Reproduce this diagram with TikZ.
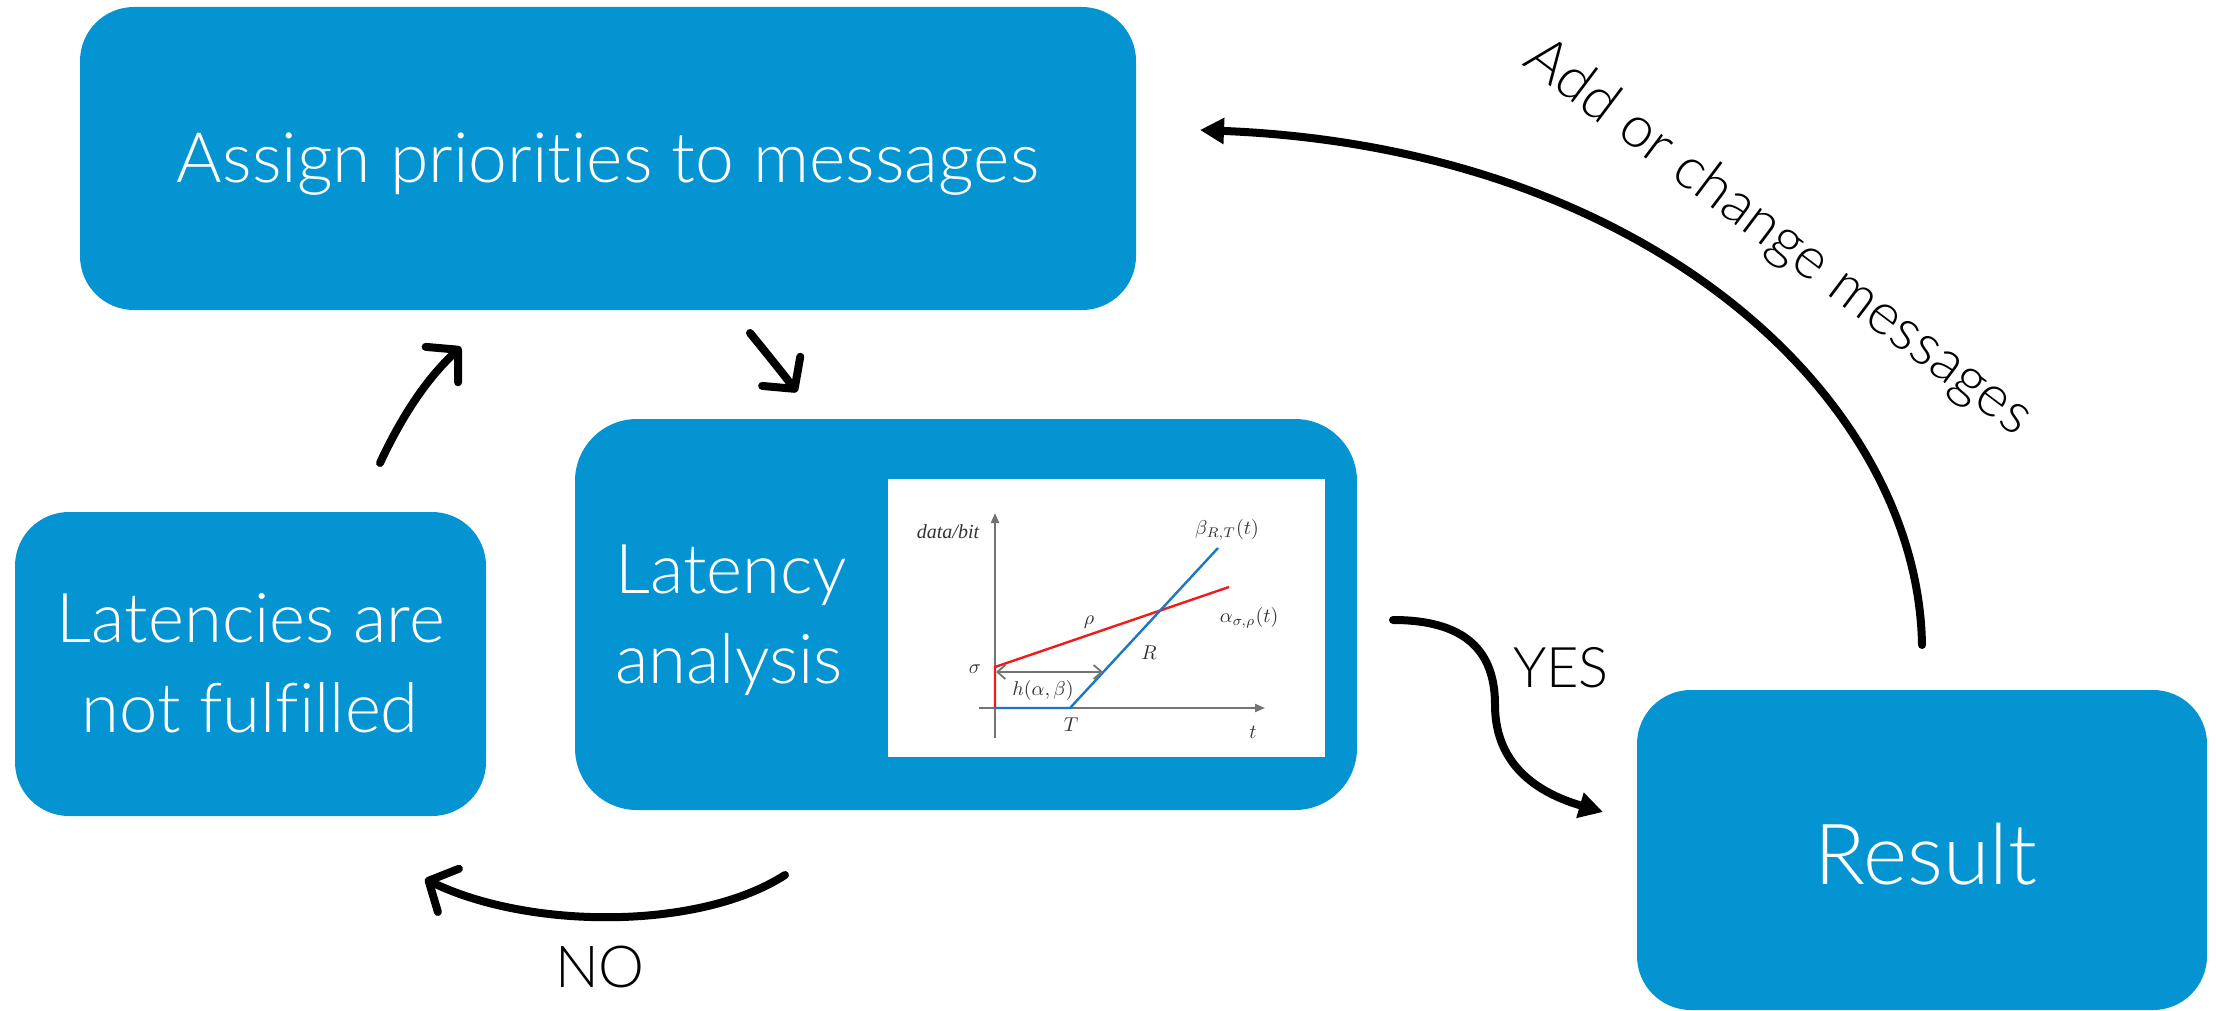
\documentclass[tikz,border=0pt]{standalone}
\usepackage{fontspec}
\setmainfont{Lato Light}[Ligatures={NoCommon}]
\newfontfamily\gfont{Liberation Serif}
\usetikzlibrary{arrows.meta}
\definecolor{boxblue}{RGB}{3,148,209}
\definecolor{plotred}{RGB}{240,28,28}
\definecolor{plotblue}{RGB}{28,118,200}
\definecolor{plotgray}{RGB}{115,115,115}
\begin{document}
\begin{tikzpicture}[x=0.5pt,y=-0.5pt,
  box/.style={fill=boxblue, draw=none, rounded corners=27pt, inner sep=0pt, outer sep=0pt},
  boxtext/.style={text=white, inner sep=0pt, font=\fontsize{34.4}{42}\selectfont},
  flowlabel/.style={text=black, inner sep=0pt, font=\fontsize{29}{35}\selectfont},
  arr/.style={line width=4pt, black, line cap=round},
  vtip/.style={-{Straight Barb[length=11pt,width=24pt,round]}},
  ttip/.style={-{Triangle[length=12pt,width=12.5pt]}},
  axis/.style={plotgray, line width=1pt, -{Triangle[length=5pt,width=4pt]}},
  plotlabel/.style={inner sep=0pt, text=black!80, font=\fontsize{10}{12}\selectfont}
]
\useasboundingbox (0,0) rectangle (2216,1011);

% boxes
\node[box, minimum width=528pt, minimum height=151.5pt] (assign) at (608,158.5) {};
\node[box, minimum width=391pt, minimum height=195.5pt, rounded corners=31pt] (analysis) at (966,614.5) {};
\node[box, minimum width=235.5pt, minimum height=152pt] (notok) at (250.5,664) {};
\node[box, minimum width=285pt, minimum height=160pt] (result) at (1922,850) {};
\node[fill=white, inner sep=0pt, outer sep=0pt, minimum width=218.5pt, minimum height=139pt] (inset) at (1106.5,618) {};

% box texts
\node[boxtext, anchor=base, font=\fontsize{34.8}{42}\selectfont] (assignT) at (608,182) {Assign priorities to messages};
\node[boxtext, anchor=base west] (anaT1) at (615,593) {Latency};
\node[boxtext, anchor=base west] (anaT2) at (615,683) {analysis};
\node[boxtext, anchor=base] (notT1) at (251,642) {Latencies are};
\node[boxtext, anchor=base] (notT2) at (250,732) {not fulfilled};
\node[boxtext, anchor=base, font=\fontsize{42.2}{50}\selectfont] (resT) at (1926,884) {Result};

% plot
\draw[axis] (995,738) -- (995,513);
\draw[axis] (979,708) -- (1265,708);
\draw[plotred, line width=1.2pt] (995,708) -- (995,667) -- (1229,587);
\draw[plotblue, line width=1.2pt] (995,708) -- (1070,708) -- (1218,548);
\draw[plotgray, line width=0.9pt, {Straight Barb[length=4pt,width=7pt]}-{Straight Barb[length=4pt,width=7pt]}] (996,672) -- (1103,672);
\node[plotlabel, anchor=base, font=\gfont\itshape\fontsize{10}{12}\selectfont] (databit) at (948,538) {data/bit};
\node[plotlabel] (betaL) at (1227,530) {$\beta_{R,T}(t)$};
\node[plotlabel] (alphaL) at (1249,618) {$\alpha_{\sigma,\rho}(t)$};
\node[plotlabel] (rhoL) at (1089,622) {$\rho$};
\node[plotlabel] (RL) at (1149,653) {$R$};
\node[plotlabel] (sigmaL) at (975,669) {$\sigma$};
\node[plotlabel] (hL) at (1043,690) {$h(\alpha,\beta)$};
\node[plotlabel] (TL) at (1071,725) {$T$};
\node[plotlabel] (tL) at (1253,732) {$t$};

% connector end points
\coordinate (upS) at (380,463);
\coordinate (upE) at (461,347);
\coordinate (dnS) at (750,333);
\coordinate (dnE) at (797,392);
\coordinate (noS) at (785,875);
\coordinate (noE) at (425,879);
\coordinate (yesS) at (1393,620);
\coordinate (yesM) at (1495,705);
\coordinate (yesE) at (1603,812);
\coordinate (addS) at (1922,645);
\coordinate (addE) at (1200,130);

% connectors
\draw[arr, vtip] (upS) .. controls (400,420) and (425,380) .. (upE);
\draw[arr, vtip] (dnS) .. controls (768,355) and (784,375) .. (dnE);
\draw[arr, vtip] (noS) .. controls (700,930) and (530,930) .. (noE);
\draw[arr, ttip] (yesS) .. controls (1475,620) and (1495,660) .. (yesM) .. controls (1495,770) and (1545,795) .. (yesE);
\draw[arr, ttip] (addS) .. controls (1918,400) and (1650,148) .. (addE);

% connector labels
\node[flowlabel, anchor=base, font=\fontsize{28}{34}\selectfont] (yesL) at (1561,687) {YES};
\node[flowlabel, anchor=base] (noL) at (600,987) {NO};
\node[flowlabel, rotate=-37] (addL) at (1778,238) {Add or change messages};
\end{tikzpicture}
\end{document}
